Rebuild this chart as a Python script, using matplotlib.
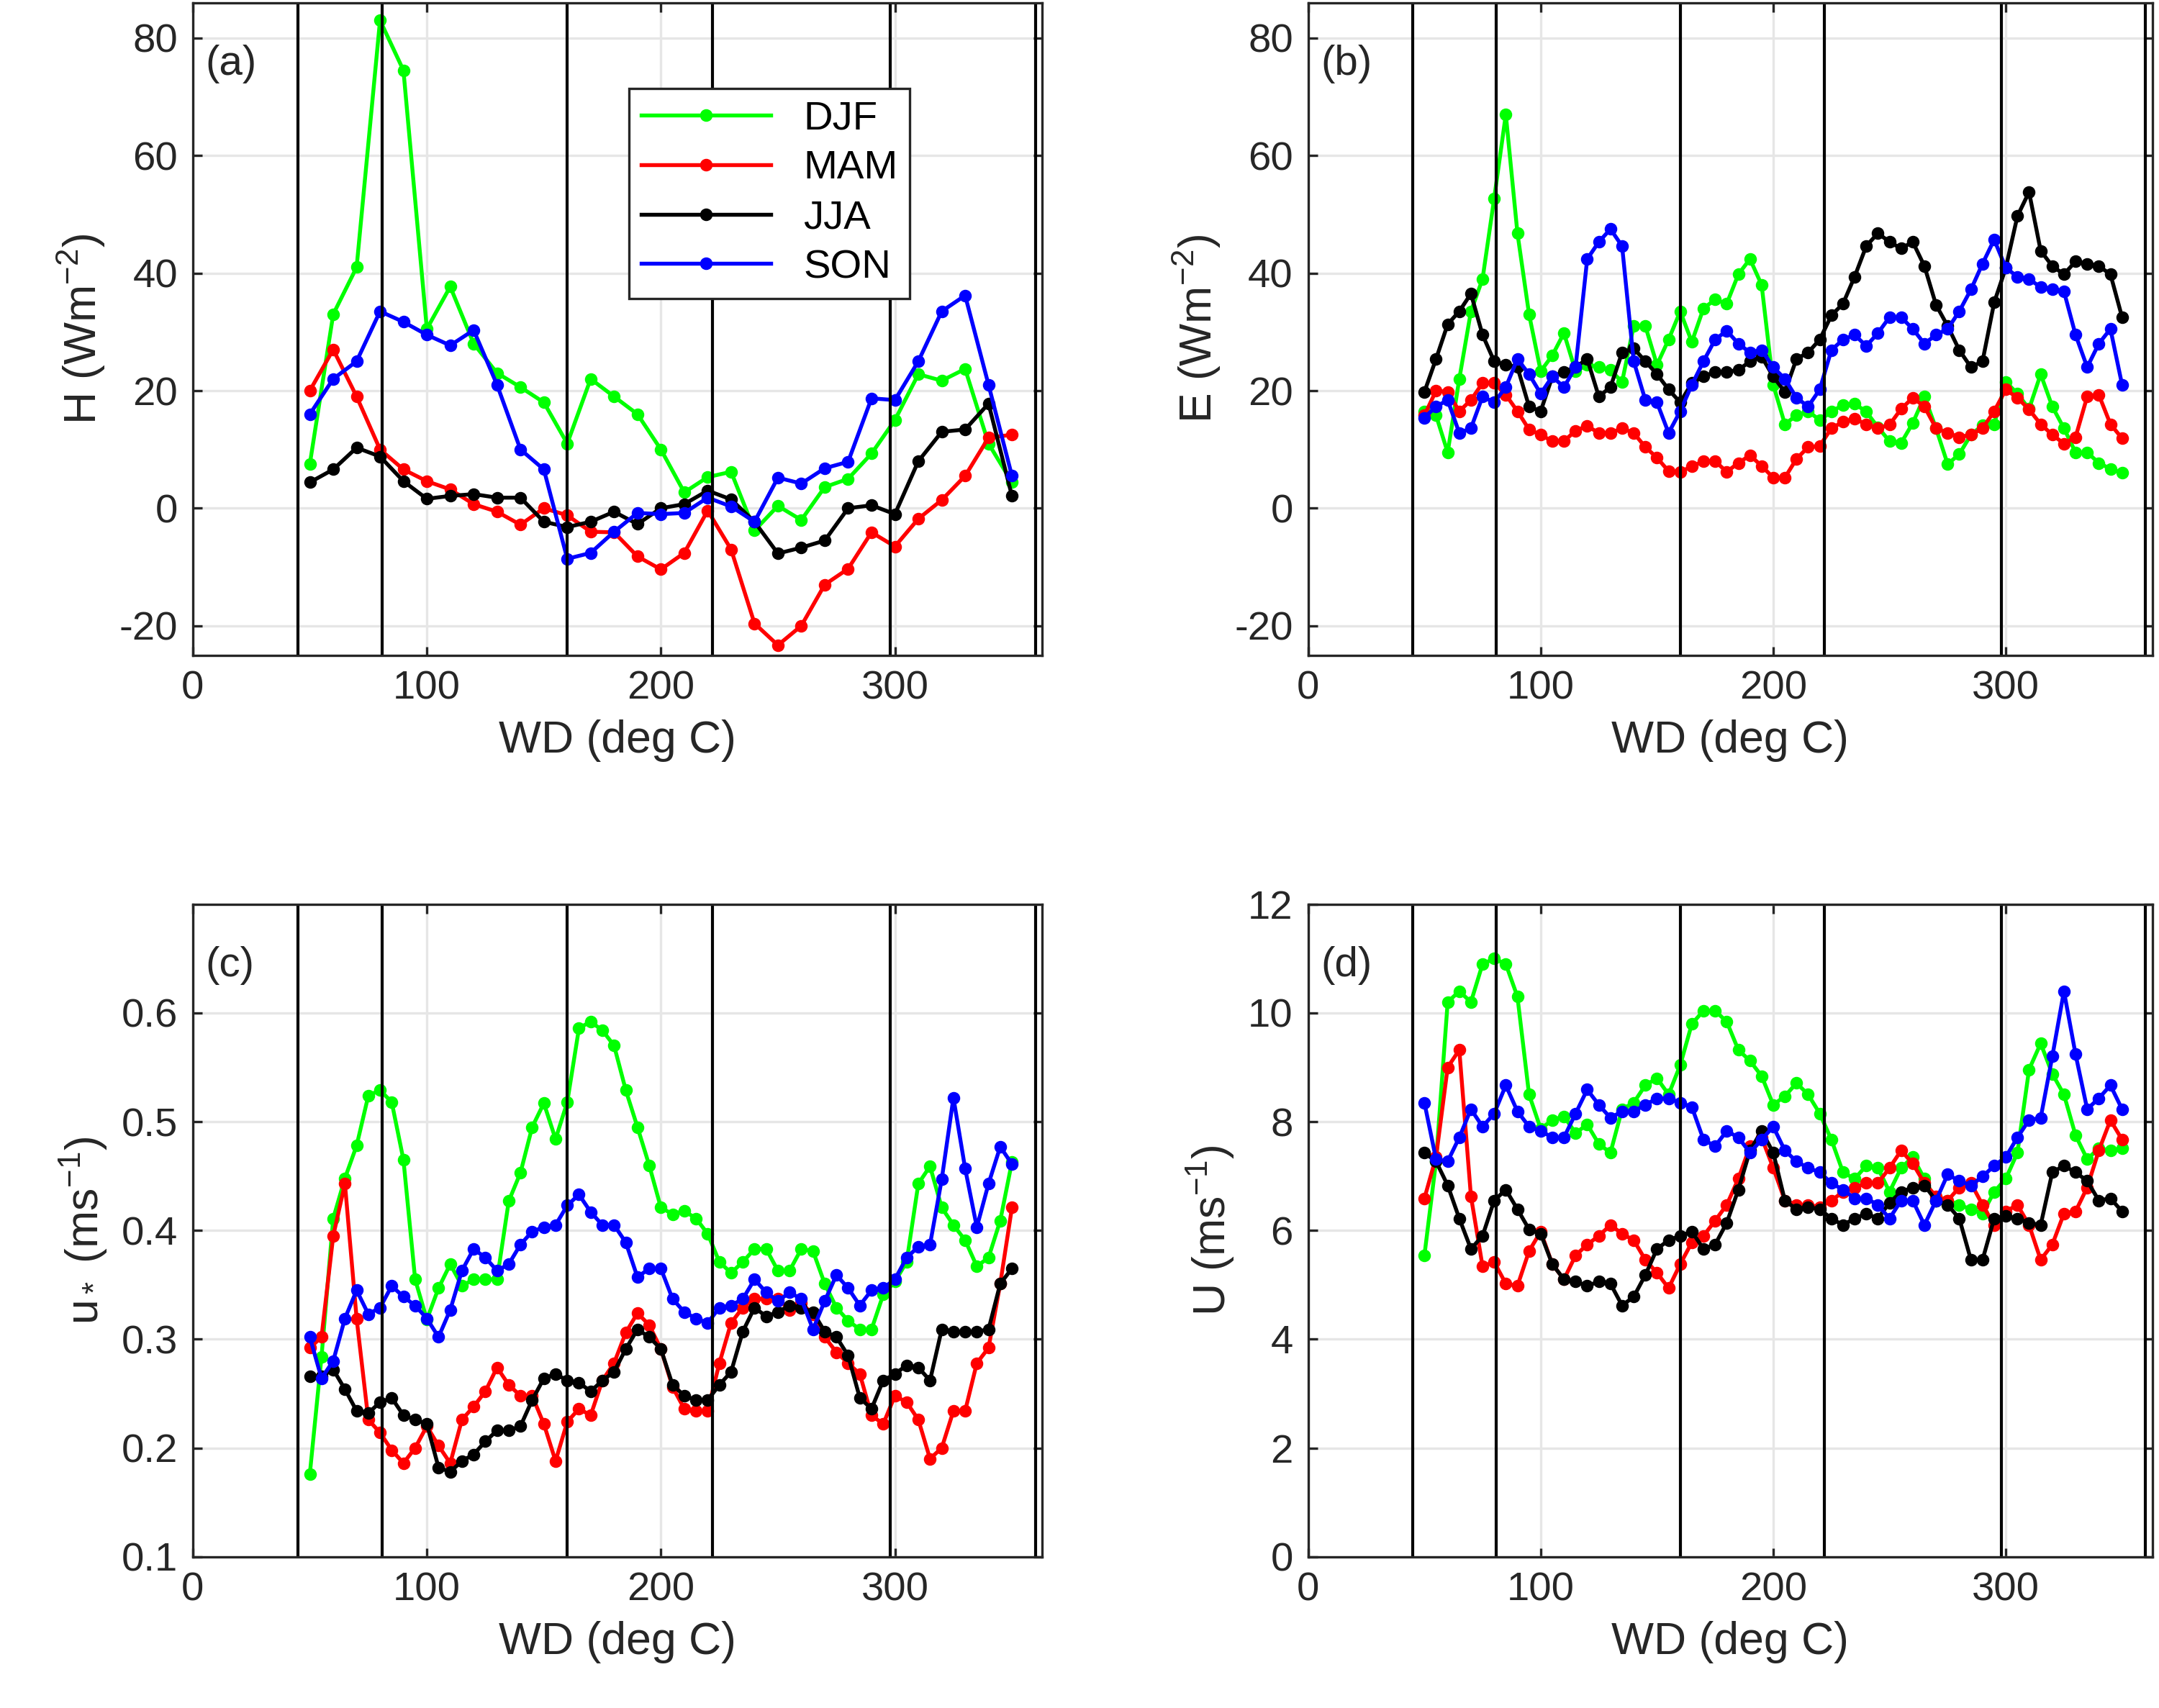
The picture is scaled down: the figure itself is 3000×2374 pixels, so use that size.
import numpy as np
import matplotlib.pyplot as plt

plt.rcParams['font.family'] = ['Liberation Sans', 'DejaVu Sans']
plt.rcParams['mathtext.fontset'] = 'custom'
plt.rcParams['mathtext.rm'] = 'Liberation Sans'
plt.rcParams['mathtext.it'] = 'Liberation Sans:italic'

# wind direction bins
wd_a = np.arange(50, 351, 10)
wd_fine = np.arange(50, 351, 5)

# sector boundaries (vertical lines)
sectors = [45, 81, 160, 222, 298, 360]

seasons = ["DJF", "MAM", "JJA", "SON"]
colors = ["#00ff00", "#ff0000", "#000000", "#0000ff"]

# (a) sensible heat flux H
H_djf = [7.5, 33, 41, 83, 74.5, 30.5, 37.7, 28, 23, 20.6, 18, 11, 22, 19, 16, 10, 2.7, 5.3, 6.2, -3.8,
         0.4, -2, 3.6, 5, 9.3, 15, 22.8, 21.7, 23.7, 11, 4.4]
H_mam = [20, 27, 19, 10, 6.6, 4.6, 3.2, 0.7, -0.6, -2.8, 0, -1.2, -4, -4.1, -8.2, -10.4, -7.6, -0.4, -7,
         -19.6, -23.3, -20, -13, -10.3, -4.1, -6.5, -1.8, 1.4, 5.5, 12, 12.5]
H_jja = [4.4, 6.6, 10.3, 8.8, 4.6, 1.6, 2.1, 2.4, 1.8, 1.8, -2.3, -3.2, -2.3, -0.6, -2.7, 0, 0.7, 3, 1.5,
         -2.3, -7.7, -6.7, -5.5, 0, 0.5, -1, 8, 13, 13.4, 17.8, 2.1]
H_son = [16, 22, 25, 33.5, 31.7, 29.5, 27.7, 30.3, 21, 10, 6.6, -8.6, -7.6, -4, -0.8, -1, -0.8, 1.8, 0.3,
         -2.3, 5.2, 4.2, 6.8, 7.9, 18.7, 18.4, 25, 33.5, 36.2, 21, 5.5]

# (b) latent heat flux E
E_djf = [16.5, 15.8, 9.5, 22, 33.5, 39, 52.7, 67, 46.8, 33, 23.3, 26, 29.8, 23.3, 24.4, 24, 23.5, 21.5,
         31, 31, 24.4, 28.7, 33.5, 28.3, 34, 35.5, 34.8, 39.8, 42.4, 38, 21, 14.3, 15.8, 16.5, 15, 16.4,
         17.6, 17.8, 16.4, 13.8, 11.4, 11.1, 14.5, 19, 13.6, 7.5, 9.2, 12.5, 14.1, 14.3, 21.5, 19.5, 16.9,
         22.8, 17.3, 13.6, 9.5, 9.5, 7.7, 6.7, 6]
E_mam = [15.8, 20, 19.8, 16.5, 18.4, 21.3, 21.3, 19.3, 16.5, 13.4, 12.5, 11.4, 11.4, 13.2, 14, 12.8, 12.8,
         13.6, 12.8, 10.4, 8.6, 6.3, 6.2, 7.1, 8, 8, 6.2, 7.7, 9, 7.2, 5.2, 5.2, 8.4, 10.4, 10.6, 13.6,
         14.7, 15.2, 14.3, 13.6, 14.2, 16.9, 18.8, 17.3, 13.6, 12.8, 12.1, 12.5, 13.6, 16.5, 20.2, 18.8,
         16.8, 14.3, 12.5, 11, 12.1, 19, 19.3, 14.3, 11.9]
E_jja = [19.8, 25.4, 31.3, 33.5, 36.5, 29.5, 25, 24.4, 24, 17.3, 16.5, 22.4, 23.2, 24, 25.4, 19, 20.6,
         26.5, 27.2, 25, 22.8, 20.2, 18, 21.3, 22.4, 23.2, 23.2, 23.5, 25, 25.8, 22.4, 19.8, 25.4, 26.5,
         28.7, 32.8, 34.8, 39.4, 44.6, 46.8, 45.3, 44.2, 45.3, 41.2, 34.6, 31, 26.9, 24, 25, 35, 40.9,
         49.7, 53.8, 43.8, 41.2, 39.8, 42, 41.6, 41.2, 39.8, 32.5]
E_son = [15.4, 17.3, 18.4, 12.8, 13.6, 19, 18, 20.6, 25.4, 22.8, 19.5, 22.4, 20.6, 24, 42.4, 45.3, 47.5,
         44.6, 25, 18.4, 18, 12.8, 16.5, 21, 25, 28.7, 30.2, 28, 26.5, 26.9, 24, 22, 18.8, 17.3, 20.2,
         26.9, 28.7, 29.5, 27.6, 29.8, 32.5, 32.5, 30.5, 28, 29.5, 30.5, 33.5, 37.2, 41.6, 45.7, 40.9,
         39.4, 39, 37.6, 37.2, 36.9, 29.5, 24, 28, 30.5, 21]

# (c) friction velocity u*
u_djf = [0.176, 0.284, 0.411, 0.448, 0.478, 0.524, 0.529, 0.518, 0.465, 0.355, 0.318, 0.347, 0.369, 0.349,
         0.355, 0.355, 0.355, 0.427, 0.453, 0.495, 0.517, 0.484, 0.518, 0.586, 0.592, 0.584, 0.57, 0.529,
         0.495, 0.46, 0.421, 0.415, 0.418, 0.411, 0.397, 0.371, 0.361, 0.371, 0.383, 0.383, 0.363, 0.363,
         0.383, 0.381, 0.351, 0.329, 0.317, 0.309, 0.309, 0.341, 0.353, 0.371, 0.443, 0.459, 0.421, 0.405,
         0.391, 0.367, 0.375, 0.409, 0.463]
u_mam = [0.292, 0.302, 0.395, 0.443, 0.319, 0.226, 0.214, 0.198, 0.186, 0.2, 0.22, 0.202, 0.186, 0.226,
         0.238, 0.252, 0.274, 0.258, 0.248, 0.248, 0.222, 0.188, 0.224, 0.236, 0.23, 0.262, 0.278, 0.306,
         0.324, 0.313, 0.291, 0.256, 0.236, 0.234, 0.234, 0.278, 0.315, 0.329, 0.337, 0.337, 0.337, 0.327,
         0.333, 0.323, 0.302, 0.288, 0.278, 0.268, 0.23, 0.222, 0.248, 0.242, 0.226, 0.19, 0.2, 0.234,
         0.234, 0.278, 0.292, 0.351, 0.421]
u_jja = [0.266, 0.266, 0.272, 0.254, 0.234, 0.232, 0.242, 0.246, 0.23, 0.226, 0.222, 0.182, 0.178, 0.188,
         0.194, 0.206, 0.216, 0.216, 0.22, 0.244, 0.264, 0.268, 0.262, 0.26, 0.252, 0.262, 0.27, 0.291,
         0.309, 0.302, 0.291, 0.258, 0.248, 0.244, 0.244, 0.258, 0.27, 0.307, 0.329, 0.321, 0.325, 0.331,
         0.329, 0.325, 0.307, 0.302, 0.285, 0.246, 0.236, 0.262, 0.268, 0.276, 0.274, 0.262, 0.309, 0.307,
         0.307, 0.307, 0.309, 0.351, 0.365]
u_son = [0.302, 0.264, 0.28, 0.319, 0.345, 0.323, 0.329, 0.349, 0.339, 0.331, 0.319, 0.302, 0.327, 0.363,
         0.383, 0.375, 0.363, 0.369, 0.387, 0.399, 0.403, 0.405, 0.423, 0.433, 0.417, 0.405, 0.405, 0.389,
         0.357, 0.365, 0.365, 0.337, 0.325, 0.319, 0.315, 0.329, 0.331, 0.337, 0.355, 0.343, 0.335, 0.343,
         0.337, 0.309, 0.335, 0.359, 0.347, 0.331, 0.345, 0.347, 0.355, 0.375, 0.385, 0.387, 0.447, 0.522,
         0.457, 0.403, 0.443, 0.477, 0.461]

# (d) wind speed U
U_djf = [5.54, 7.27, 10.2, 10.4, 10.2, 10.9, 11.0, 10.9, 10.3, 8.5, 7.87, 8.03, 8.1, 7.79, 7.95, 7.59,
         7.43, 8.23, 8.35, 8.67, 8.8, 8.5, 9.04, 9.8, 10.04, 10.04, 9.84, 9.32, 9.12, 8.84, 8.31, 8.47,
         8.71, 8.5, 8.15, 7.67, 7.07, 6.95, 7.19, 7.15, 6.71, 7.15, 7.35, 6.95, 6.55, 6.55, 6.47, 6.39,
         6.31, 6.71, 6.95, 7.43, 8.96, 9.44, 8.88, 8.5, 7.75, 7.31, 7.51, 7.47, 7.51]
U_mam = [6.59, 7.35, 9.0, 9.32, 6.63, 5.34, 5.42, 5.02, 4.98, 5.62, 5.98, 5.38, 5.1, 5.54, 5.74, 5.9,
         6.1, 5.94, 5.82, 5.46, 5.22, 4.94, 5.38, 5.78, 5.9, 6.18, 6.47, 6.95, 7.55, 7.71, 7.15, 6.55,
         6.47, 6.47, 6.43, 6.55, 6.71, 6.79, 6.87, 6.87, 7.15, 7.47, 7.23, 6.87, 6.63, 6.55, 6.79, 6.87,
         6.47, 6.1, 6.35, 6.47, 6.1, 5.46, 5.74, 6.31, 6.35, 6.79, 7.47, 8.03, 7.67]
U_jja = [7.43, 7.27, 6.83, 6.22, 5.66, 5.9, 6.55, 6.75, 6.39, 6.02, 5.94, 5.38, 5.1, 5.06, 4.98, 5.06,
         5.02, 4.62, 4.78, 5.18, 5.66, 5.82, 5.9, 5.98, 5.66, 5.74, 6.14, 6.75, 7.47, 7.83, 7.43, 6.55,
         6.39, 6.43, 6.39, 6.22, 6.1, 6.22, 6.31, 6.22, 6.51, 6.71, 6.79, 6.83, 6.55, 6.47, 6.22, 5.46,
         5.46, 6.22, 6.27, 6.22, 6.14, 6.1, 7.07, 7.19, 7.07, 6.91, 6.55, 6.59, 6.35]
U_son = [8.35, 7.31, 7.27, 7.71, 8.23, 7.91, 8.15, 8.67, 8.19, 7.91, 7.83, 7.71, 7.71, 8.15, 8.59, 8.31,
         8.07, 8.19, 8.19, 8.31, 8.43, 8.43, 8.35, 8.27, 7.67, 7.55, 7.83, 7.71, 7.43, 7.67, 7.91, 7.47,
         7.27, 7.15, 7.07, 6.87, 6.75, 6.59, 6.59, 6.47, 6.22, 6.55, 6.55, 6.1, 6.55, 7.03, 6.91, 6.83,
         6.99, 7.19, 7.35, 7.71, 8.03, 8.07, 9.2, 10.4, 9.24, 8.23, 8.43, 8.67, 8.23]

panels = [
    ("(a)", wd_a, [H_djf, H_mam, H_jja, H_son], r"H (Wm$^{-2}$)", (-25, 86), np.arange(-20, 81, 20), "%g"),
    ("(b)", wd_fine, [E_djf, E_mam, E_jja, E_son], r"E (Wm$^{-2}$)", (-25, 86), np.arange(-20, 81, 20), "%g"),
    ("(c)", wd_fine, [u_djf, u_mam, u_jja, u_son], r"u$_*$ (ms$^{-1}$)", (0.1, 0.7), np.arange(0.1, 0.61, 0.1), "%.1f"),
    ("(d)", wd_fine, [U_djf, U_mam, U_jja, U_son], r"U (ms$^{-1}$)", (0, 12), np.arange(0, 13, 2), "%g"),
]

positions = [[0.0893, 0.6164, 0.3935, 0.382], [0.6059, 0.6164, 0.391, 0.382],
             [0.0893, 0.0886, 0.3935, 0.382], [0.6059, 0.0886, 0.391, 0.382]]

fig = plt.figure(figsize=(10, 2374 / 300))
for pos, (tag, wd, series, ylab, ylim, yticks, fmt) in zip(positions, panels):
    ax = fig.add_axes(pos)
    for vals, c, name in zip(series, colors, seasons):
        ax.plot(wd, vals, '-o', color=c, lw=1.3, ms=3.2, label=name)
    for s in sectors:
        ax.axvline(s, color='black', lw=1.0)
    ax.set_xlim(0, 363)
    ax.set_ylim(*ylim)
    ax.set_xticks([0, 100, 200, 300])
    ax.set_yticks(yticks)
    ax.set_yticklabels([fmt % v for v in yticks])
    ax.grid(True, color='#e6e6e6', lw=0.8)
    ax.set_axisbelow(True)
    ax.tick_params(direction='in', top=True, right=True, labelsize=13.5, colors='#262626',
                   length=3, pad=5)
    for sp in ax.spines.values():
        sp.set_color('#262626')
        sp.set_linewidth(0.8)
    ax.set_xlabel("WD (deg C)", fontsize=15, color='#262626')
    ax.set_ylabel(ylab, fontsize=15, color='#262626')
    ax.text(0.015, 0.89, tag, transform=ax.transAxes, fontsize=14, color='#262626')
    if tag == "(a)":
        leg = ax.legend(loc='upper left', bbox_to_anchor=(0.49, 0.9), fontsize=13.5,
                        fancybox=False, edgecolor='#262626', handlelength=3.2,
                        borderpad=0.3, labelspacing=0.3, framealpha=1)
        leg.get_frame().set_linewidth(0.8)

plt.savefig("out.png", dpi=300)
